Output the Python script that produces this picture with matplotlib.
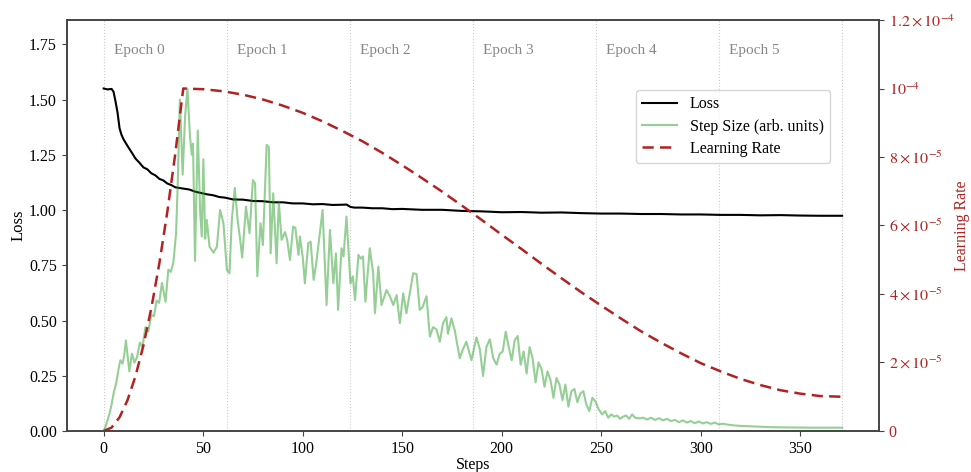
import numpy as np
import matplotlib
matplotlib.use('Agg')
import matplotlib.pyplot as plt
from matplotlib.ticker import FuncFormatter, MultipleLocator

plt.rcParams['font.family'] = 'serif'
plt.rcParams['font.serif'] = ['Liberation Serif', 'DejaVu Serif']
plt.rcParams['mathtext.fontset'] = 'stix'

# loss
loss_steps = [0, 2, 4, 5, 6, 7, 8, 9, 10, 12, 14, 16, 18, 20, 22, 24, 26, 28, 30, 32, 34, 36, 38, 40,
              43, 46, 49, 52, 55, 58, 61, 65, 70, 75, 80, 85, 90, 95, 100, 105, 110, 115, 120, 122,
              124, 126, 130, 135, 140, 145, 150, 160, 170, 180, 190, 200, 210, 220, 230, 240, 250,
              260, 270, 280, 290, 300, 310, 320, 330, 340, 350, 360, 371]
loss_vals = [1.550, 1.546, 1.548, 1.535, 1.49, 1.44, 1.37, 1.34, 1.32, 1.29, 1.262, 1.233, 1.214, 1.193,
             1.184, 1.166, 1.157, 1.141, 1.134, 1.12, 1.113, 1.103, 1.100, 1.097, 1.093, 1.083, 1.077,
             1.071, 1.067, 1.059, 1.056, 1.048, 1.047, 1.041, 1.040, 1.035, 1.035, 1.030, 1.030, 1.026,
             1.027, 1.023, 1.024, 1.025, 1.014, 1.011, 1.011, 1.008, 1.008, 1.004, 1.005, 1.001, 1.001,
             0.996, 0.994, 0.990, 0.991, 0.988, 0.989, 0.986, 0.984, 0.984, 0.982, 0.982, 0.980, 0.980,
             0.978, 0.978, 0.976, 0.977, 0.975, 0.974, 0.974]

# step size (arb. units), plotted on the loss axis
step_steps = [0, 1, 2, 3, 4, 5, 6.4, 7.5, 8.4, 9.5, 10.3, 11.2, 12.9, 14.2, 15.5, 16.8, 18.2, 19.5, 21,
              22.4, 24, 25.3, 26.6, 27.9, 29.3, 31.1, 32.5, 33.7, 35, 36.4, 37.2, 38.3, 39.7, 40.9, 42.1,
              43.4, 44.3, 44.9, 45.9, 47.3, 48.5, 49.3, 50.1, 51, 51.8, 53.2, 55.2, 56.9, 58.5, 60.2,
              61.9, 63.2, 64.4, 65.9, 67.3, 68.6, 69.6, 71.5, 73.3, 75, 76.1, 77.2, 78.8, 80, 81.9, 83,
              83.9, 85.2, 86.9, 88, 89.4, 91.1, 92.2, 93.6, 95.2, 96.3, 97.9, 98.6, 100.1, 101.1, 102.8,
              104, 105.5, 106.8, 110, 112, 113.7, 115.4, 116.7, 117.8, 119.5, 120.5, 122, 124, 125.2,
              126.3, 128, 129.2, 130.3, 131.5, 133.7, 135.4, 136.3, 138, 139.6, 142.1, 143.8, 145.5,
              147.2, 148.8, 150.5, 152.1, 154.1, 155.5, 157.2, 158.8, 160.2, 162.2, 163.9, 165.5, 167.2,
              168.9, 170.5, 172.2, 173, 174.7, 176.4, 178.9, 180.5, 182.2, 184.8, 187.3, 189, 190.6,
              192.3, 194, 195.7, 197.4, 199, 200.5, 202, 203.5, 205, 206.5, 208, 209.5, 211, 212.5, 214,
              215.5, 217, 218.5, 220, 221.5, 223, 224.5, 226, 227.5, 229, 230.5, 232, 233.5, 235, 236.5,
              238, 239.5, 241, 242.5, 244, 245.5, 247, 248.6, 250.4, 252, 253.5, 255, 256.5, 258, 259.5,
              261, 262.5, 264, 265.5, 267, 269, 271, 273, 275, 277, 279, 281, 283, 285, 287, 289, 291,
              293, 295, 297, 299, 301, 303, 305, 307, 309, 311, 314, 317, 320, 325, 330, 336, 345, 355,
              371]
step_vals = [0.0, 0.02, 0.05, 0.08, 0.12, 0.17, 0.22, 0.28, 0.32, 0.305, 0.34, 0.41, 0.27, 0.35, 0.31,
             0.335, 0.40, 0.38, 0.47, 0.45, 0.525, 0.52, 0.59, 0.58, 0.67, 0.585, 0.73, 0.72, 0.76, 0.895,
             1.11, 1.50, 1.16, 1.42, 1.55, 1.33, 1.25, 1.30, 0.77, 1.36, 0.99, 0.88, 1.23, 0.87, 0.955,
             0.834, 0.807, 0.834, 1.0, 0.94, 0.73, 0.714, 0.955, 1.10, 0.955, 0.865, 0.785, 1.015, 0.895,
             1.136, 1.12, 0.70, 0.94, 0.842, 1.295, 1.285, 0.804, 1.076, 0.759, 1.038, 0.865, 0.90,
             0.865, 0.774, 0.925, 0.92, 0.797, 0.88, 0.782, 0.668, 0.85, 0.857, 0.684, 0.759, 1.0, 0.57,
             0.91, 0.668, 0.804, 0.548, 0.827, 0.79, 0.97, 0.668, 0.70, 0.593, 0.797, 0.78, 0.79, 0.585,
             0.827, 0.714, 0.533, 0.744, 0.57, 0.638, 0.61, 0.57, 0.615, 0.488, 0.623, 0.533, 0.638,
             0.714, 0.71, 0.548, 0.56, 0.61, 0.427, 0.47, 0.46, 0.404, 0.488, 0.515, 0.44, 0.51, 0.455,
             0.329, 0.37, 0.404, 0.321, 0.424, 0.37, 0.249, 0.38, 0.415, 0.33, 0.30, 0.35, 0.36, 0.45,
             0.38, 0.32, 0.41, 0.43, 0.30, 0.36, 0.26, 0.38, 0.33, 0.22, 0.31, 0.28, 0.20, 0.27, 0.23,
             0.15, 0.24, 0.21, 0.14, 0.21, 0.11, 0.18, 0.19, 0.13, 0.17, 0.18, 0.12, 0.09, 0.15, 0.135,
             0.10, 0.075, 0.09, 0.06, 0.075, 0.065, 0.07, 0.055, 0.065, 0.07, 0.055, 0.075, 0.06, 0.057,
             0.06, 0.052, 0.06, 0.05, 0.058, 0.048, 0.055, 0.045, 0.05, 0.04, 0.048, 0.038, 0.045, 0.035,
             0.043, 0.034, 0.04, 0.032, 0.038, 0.03, 0.033, 0.028, 0.025, 0.023, 0.021, 0.019, 0.017,
             0.016, 0.015, 0.015]

# learning rate schedule
lr_steps = [0, 4, 8, 12, 16, 20, 24, 28, 32, 36, 40, 50, 60, 70, 80, 90, 100, 110, 120, 130, 140, 150,
            160, 170, 180, 190, 200, 210, 220, 230, 240, 250, 260, 270, 280, 290, 300, 310, 320, 330,
            340, 350, 360, 371]
lr_vals = [0.0, 0.10, 0.40, 0.90, 1.60, 2.50, 3.60, 4.90, 6.40, 8.10, 10.0, 9.98, 9.92, 9.82, 9.68, 9.50,
           9.29, 9.04, 8.76, 8.46, 8.12, 7.76, 7.38, 6.99, 6.58, 6.16, 5.73, 5.31, 4.88, 4.46, 4.05,
           3.66, 3.28, 2.91, 2.58, 2.27, 1.98, 1.74, 1.52, 1.34, 1.19, 1.09, 1.02, 1.00]
lr_vals = [v * 1e-5 for v in lr_vals]

epoch_bounds = [0, 61.8, 123.7, 185.5, 247.3, 309.2, 371]
epoch_names = ['Epoch 0', 'Epoch 1', 'Epoch 2', 'Epoch 3', 'Epoch 4', 'Epoch 5']

red = '#b22222'
spine_col = '#444444'

fig = plt.figure(figsize=(9.71, 4.72), dpi=100)
ax = fig.add_axes([0.0687, 0.0869, 0.8366, 0.8707])
ax2 = ax.twinx()

for b in epoch_bounds:
    ax.axvline(b, color='#cccccc', linestyle=':', linewidth=0.8, zorder=0)
for b, name in zip(epoch_bounds[:-1], epoch_names):
    ax.text(b + 5, 0.925, name, transform=ax.get_xaxis_transform(), color='#888888',
            fontsize=11, va='center', ha='left')

l1, = ax.plot(loss_steps, loss_vals, color='black', linewidth=1.5, label='Loss')
l2, = ax.plot(step_steps, step_vals, color='#2ca02c', alpha=0.5, linewidth=1.5,
              label='Step Size (arb. units)')
l3, = ax2.plot(lr_steps, lr_vals, color=red, linestyle='--', linewidth=1.8,
               dashes=(4.5, 2.5), label='Learning Rate')

ax.set_ylim(0, 1.86)
ax.yaxis.set_major_locator(MultipleLocator(0.25))
ax.yaxis.set_major_formatter(FuncFormatter(lambda v, p: '%.2f' % v))
ax2.set_ylim(0, 1.2e-4)
ax2.yaxis.set_major_locator(MultipleLocator(2e-5))


def lr_fmt(v, pos):
    if v <= 0:
        return '0'
    e = int(np.floor(np.log10(v) + 1e-9))
    m = round(v / 10 ** e, 3)
    if abs(m - 1) < 1e-6:
        return r'$10^{%d}$' % e
    return r'$%g\times10^{%d}$' % (m, e)


ax2.yaxis.set_major_formatter(FuncFormatter(lr_fmt))

ax.set_xlabel('Steps', fontsize=11.5, labelpad=0)
ax.set_ylabel('Loss', fontsize=12, labelpad=2)
ax2.set_ylabel('Learning Rate', fontsize=11.5, color=red)
ax2.yaxis.set_label_coords(1.092, 0.5)
ax.tick_params(labelsize=11.5, color=spine_col)
ax2.tick_params(labelsize=11.5, colors=red)
ax2.tick_params(axis='y', color=spine_col)
for a in (ax, ax2):
    for s in a.spines.values():
        s.set_color(spine_col)
        s.set_linewidth(1.2)

leg = ax.legend(handles=[l1, l2, l3], loc='upper right', bbox_to_anchor=(0.94, 0.83),
                borderaxespad=0, fontsize=11.5, frameon=True, handlelength=2.2,
                labelspacing=0.4)
leg.get_frame().set_edgecolor('#cccccc')

fig.savefig('out.png', dpi=100)
